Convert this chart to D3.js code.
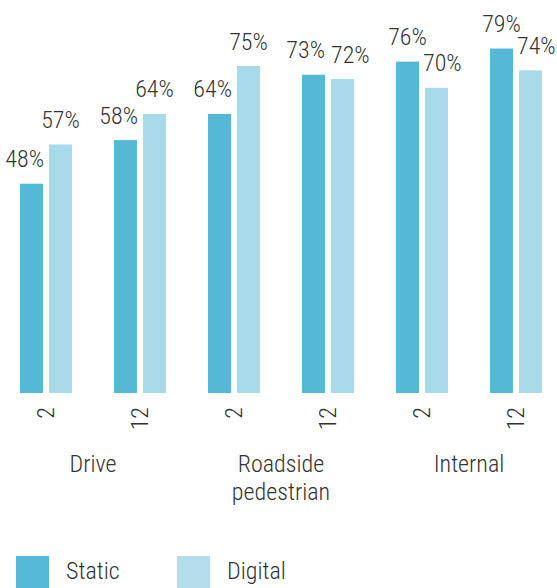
<!DOCTYPE html>
<html>
<head>
<meta charset="utf-8">
<script src="https://cdn.jsdelivr.net/npm/d3@7"></script>
<style>
  html, body { margin: 0; padding: 0; background: #ffffff; }
  svg { display: block; }
  text { font-family: "Roboto Condensed", Roboto, "Noto Sans", sans-serif; font-weight: 300; fill: #333333; }
</style>
</head>
<body>
<svg id="chart" width="557" height="588"></svg>
<script>
// Location groups, dwell durations and the two sign types
const groups = ["Drive", "Roadside pedestrian", "Internal"];
const durations = ["2", "12"];
const seriesNames = ["Static", "Digital"];
const staticValues = [48, 58, 64, 73, 76, 79];
const digitalValues = [57, 64, 75, 72, 70, 74];

const colors = { Static: "#54b8d6", Digital: "#a9dae9" };
const legendColors = { Static: "#55b9d7", Digital: "#b4dcea" };

const fontSize = 24;
const capH = fontSize * 0.71;

const rows = [];
groups.forEach(g => durations.forEach(d => rows.push({ group: g, duration: d, key: g + "|" + d })));
rows.forEach((r, i) => { r.Static = staticValues[i]; r.Digital = digitalValues[i]; });

const svg = d3.select("#chart");

const x0 = d3.scaleBand()
  .domain(rows.map(r => r.key))
  .range([-1, 563])
  .paddingInner(42 / 94)
  .paddingOuter(21 / 94);

const x1 = d3.scaleBand()
  .domain(seriesNames)
  .range([0, x0.bandwidth()])
  .paddingInner(6 / 29);

const y = d3.scaleLinear().domain([0, 100]).range([393, -43]);

function addText(sel, str, x, yy, opts = {}) {
  const t = sel.append("text")
    .attr("transform", `translate(${x},${yy})${opts.rotate ? ` rotate(${opts.rotate})` : ""}`)
    .attr("text-anchor", opts.anchor || "middle")
    .attr("font-size", opts.size || fontSize)
    .text(str);
  if (opts.dy) t.attr("dy", opts.dy);
  return t;
}

// Bars
const pairs = svg.append("g").selectAll("g")
  .data(rows)
  .join("g")
  .attr("transform", d => `translate(${x0(d.key)},0)`);

pairs.selectAll("rect")
  .data(d => seriesNames.map(s => ({ s, v: d[s] })))
  .join("rect")
  .attr("x", d => x1(d.s))
  .attr("y", d => y(d.v))
  .attr("width", x1.bandwidth())
  .attr("height", d => y(0) - y(d.v))
  .attr("fill", d => colors[d.s]);

// Value labels, nudged sideways so they never sit on a neighbouring taller bar or on each other
const labelLayer = svg.append("g");
rows.forEach(r => {
  const bx = x0(r.key);
  const sLeft = bx + x1("Static"), sRight = sLeft + x1.bandwidth();
  const dLeft = bx + x1("Digital"), dRight = dLeft + x1.bandwidth();
  const ts = addText(labelLayer, r.Static + "%", 0, 0);
  const td = addText(labelLayer, r.Digital + "%", 0, 0);
  const ws = ts.node().getComputedTextLength();
  const wd = td.node().getComputedTextLength();
  let cs = (sLeft + sRight) / 2, cd = (dLeft + dRight) / 2;
  const bs = y(r.Static) - 16.5, bd = y(r.Digital) - 16.5;
  if (bs > y(r.Digital)) cs = Math.min(cs, dLeft - 5 - ws / 2);
  if (bd > y(r.Static)) cd = Math.max(cd, sRight + 4 + wd / 2);
  if (Math.abs(bs - bd) < capH + 4) {
    const over = (cs + ws / 2 + 6) - (cd - wd / 2);
    if (over > 0) { cs -= over / 2; cd += over / 2; }
  }
  ts.attr("transform", `translate(${cs},${bs})`);
  td.attr("transform", `translate(${cd},${bd})`);
});

// Duration ticks (rotated)
const tickLayer = svg.append("g");
rows.forEach(r => {
  addText(tickLayer, r.duration, x0(r.key) + x0.bandwidth() / 2, 407, { rotate: -90, anchor: "end", dy: "0.35em" });
});

// Group labels, wrapped onto several lines when too wide
const groupLayer = svg.append("g");
groups.forEach(g => {
  const keys = rows.filter(r => r.group === g).map(r => r.key);
  const cx = (x0(keys[0]) + x0(keys[keys.length - 1]) + x0.bandwidth()) / 2;
  const words = g.split(" ");
  const lines = [];
  let cur = "";
  const probe = addText(groupLayer, "", 0, 0);
  words.forEach(w => {
    const test = cur ? cur + " " + w : w;
    probe.text(test);
    if (cur && probe.node().getComputedTextLength() > 110) { lines.push(cur); cur = w; }
    else cur = test;
  });
  lines.push(cur);
  probe.remove();
  lines.forEach((ln, i) => addText(groupLayer, ln, cx, 471.5 + i * 28.5));
});

// Legend
const legend = svg.append("g");
const legendX = [16, 177];
seriesNames.forEach((s, i) => {
  legend.append("rect")
    .attr("x", legendX[i]).attr("y", 556)
    .attr("width", 33).attr("height", 32)
    .attr("fill", legendColors[s]);
  addText(legend, s, legendX[i] + 50, 579.3, { anchor: "start" });
});
</script>
</body>
</html>
